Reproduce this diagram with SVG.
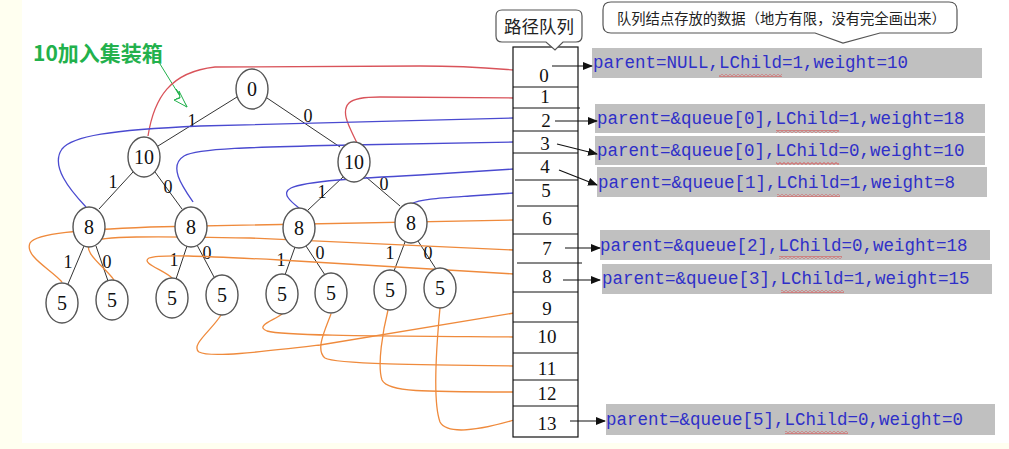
<svg xmlns="http://www.w3.org/2000/svg" width="1009" height="449" viewBox="0 0 1009 449">
<style>
.node ellipse{fill:#fff;stroke:#555;stroke-width:1.4}
.node text,.lbl,.qn{font-family:"Liberation Serif","Times New Roman",serif;fill:#111;text-anchor:middle}
.node text{font-size:20px}
.lbl{font-size:18px}
.qn{font-size:19px}
.edge{stroke:#333;stroke-width:1}
.red{fill:none;stroke:#d9535a;stroke-width:1.3}
.blue{fill:none;stroke:#4a4ad0;stroke-width:1.3}
.orange{fill:none;stroke:#ef8a3c;stroke-width:1.3}
.box{fill:#c0c0c0}
.code{font-family:"Liberation Mono","Courier New",monospace;font-size:17.5px;fill:#2f2fc8}
.arr{stroke:#111;stroke-width:1.2;marker-end:url(#ah)}
.call{fill:#fff;stroke:#555;stroke-width:1.2}
.cjk{font-family:"Liberation Sans","Noto Sans CJK SC",sans-serif;fill:#222}
</style>
<defs>
<marker id="ah" markerWidth="10" markerHeight="8" refX="9" refY="4" orient="auto" markerUnits="userSpaceOnUse">
<path d="M0,0 L10,4 L0,8 Z" fill="#111"/>
</marker>
<pattern id="wave" width="4" height="3" patternUnits="userSpaceOnUse">
<path d="M0,0.6 L2,2.4 L4,0.6" fill="none" stroke="#e03030" stroke-width="0.8"/>
</pattern>
</defs>
<rect x="0" y="0" width="1009" height="449" fill="#fffff0"/>
<rect x="22" y="0" width="987" height="443" fill="#fff"/>

<g id="annotation">
<text x="33" y="61" font-family="'Noto Sans CJK SC',sans-serif" font-size="21" font-weight="bold" fill="#22b14c">10加入集装箱</text>
<line x1="160" y1="64" x2="186" y2="106" stroke="#22b14c" stroke-width="1"/>
<path d="M187,107 L176,99 L181,97 L176,89 L186,105 Z" fill="none" stroke="#22b14c" stroke-width="1"/>
<path d="M187,107 L174,100 L180,98 L179,91 Z" fill="#fff" stroke="#22b14c" stroke-width="1"/>
</g>

<g id="tree-edges">
<line class="edge" x1="237" y1="97" x2="158" y2="146"/>
<line class="edge" x1="267" y1="98" x2="340" y2="147"/>
<line class="edge" x1="133" y1="172" x2="99" y2="209"/>
<line class="edge" x1="155" y1="172" x2="182" y2="209"/>
<line class="edge" x1="343" y1="177" x2="308" y2="210"/>
<line class="edge" x1="366" y1="177" x2="400" y2="206"/>
<line class="edge" x1="84" y1="246" x2="68" y2="284"/>
<line class="edge" x1="96" y1="246" x2="108" y2="281"/>
<line class="edge" x1="187" y1="246" x2="176" y2="279"/>
<line class="edge" x1="197" y1="245" x2="214" y2="277"/>
<line class="edge" x1="295" y1="247" x2="285" y2="275"/>
<line class="edge" x1="306" y1="246" x2="325" y2="275"/>
<line class="edge" x1="405" y1="242" x2="394" y2="271"/>
<line class="edge" x1="418" y1="241" x2="436" y2="269"/>
<text class="lbl" x="192" y="127">1</text>
<text class="lbl" x="308" y="122">0</text>
<text class="lbl" x="113" y="188">1</text>
<text class="lbl" x="168" y="193">0</text>
<text class="lbl" x="322" y="198">1</text>
<text class="lbl" x="384" y="190">0</text>
<text class="lbl" x="68" y="268">1</text>
<text class="lbl" x="107" y="268">0</text>
<text class="lbl" x="174" y="266">1</text>
<text class="lbl" x="207" y="259">0</text>
<text class="lbl" x="281" y="266">1</text>
<text class="lbl" x="320" y="259">0</text>
<text class="lbl" x="390" y="259">1</text>
<text class="lbl" x="428" y="259">0</text>
</g>

<g id="connectors">
<path class="red" d="M148,136 C154,98 170,72 215,67 L420,66 C470,66 500,69 514,70"/>
<path class="red" d="M357,143 C350,128 340,112 349,103 C354,98 365,97 380,97 L514,98"/>
<path class="blue" d="M86,207 C70,190 50,166 62,149 C72,136 110,130 200,126 L514,118"/>
<path class="blue" d="M193,202 C182,186 168,166 184,156 C198,148 260,147 350,145 L514,142"/>
<path class="blue" d="M299,208 C290,201 281,193 291,188 C305,181 360,178 420,175 L514,169"/>
<path class="blue" d="M411,204 C420,199 440,198 470,196 L514,193"/>
<path class="orange" d="M62,282 C52,270 24,256 30,243 C36,233 80,230 150,227 L514,220"/>
<path class="orange" d="M114,280 C106,268 80,251 91,242 C100,236 150,236 250,238 L514,250"/>
<path class="orange" d="M172,278 C164,270 140,263 149,258 C160,254 200,256 280,260 L514,274"/>
<path class="orange" d="M221,315 C212,330 190,345 199,352 C210,358 260,352 320,345 L514,313"/>
<path class="orange" d="M282,314 C275,320 254,326 267,331 C285,336 380,336 514,337"/>
<path class="orange" d="M331,314 C325,330 315,350 325,358 C335,364 420,365 514,366"/>
<path class="orange" d="M388,310 C383,330 377,365 382,380 C388,392 420,392 521,392"/>
<path class="orange" d="M440,308 C437,340 432,400 440,422 C447,435 480,430 514,420"/>
</g>

<g id="n-root" class="node"><ellipse cx="252" cy="89" rx="16" ry="20"/><text x="252" y="96">0</text></g>
<g id="n-10a" class="node"><ellipse cx="144" cy="157" rx="16" ry="20"/><text x="144" y="164">10</text></g>
<g id="n-10b" class="node"><ellipse cx="354" cy="162" rx="16" ry="20"/><text x="354" y="169">10</text></g>
<g id="n-8a" class="node"><ellipse cx="89" cy="227" rx="16" ry="20"/><text x="89" y="234">8</text></g>
<g id="n-8b" class="node"><ellipse cx="191" cy="227" rx="16" ry="20"/><text x="191" y="234">8</text></g>
<g id="n-8c" class="node"><ellipse cx="299" cy="228" rx="16" ry="20"/><text x="299" y="235">8</text></g>
<g id="n-8d" class="node"><ellipse cx="411" cy="223" rx="16" ry="20"/><text x="411" y="230">8</text></g>
<g id="n-5a" class="node"><ellipse cx="62" cy="303" rx="16" ry="20"/><text x="62" y="310">5</text></g>
<g id="n-5b" class="node"><ellipse cx="112" cy="300" rx="16" ry="20"/><text x="112" y="307">5</text></g>
<g id="n-5c" class="node"><ellipse cx="172" cy="298" rx="16" ry="20"/><text x="172" y="305">5</text></g>
<g id="n-5d" class="node"><ellipse cx="222" cy="295" rx="16" ry="20"/><text x="222" y="302">5</text></g>
<g id="n-5e" class="node"><ellipse cx="282" cy="294" rx="16" ry="20"/><text x="282" y="301">5</text></g>
<g id="n-5f" class="node"><ellipse cx="331" cy="293" rx="16" ry="20"/><text x="331" y="300">5</text></g>
<g id="n-5g" class="node"><ellipse cx="390" cy="290" rx="16" ry="20"/><text x="390" y="297">5</text></g>
<g id="n-5h" class="node"><ellipse cx="440" cy="288" rx="16" ry="20"/><text x="440" y="295">5</text></g>

<g id="queue">
<rect x="513" y="47" width="65" height="390" fill="#fff" stroke="#111" stroke-width="1.2"/>
<g stroke="#111" stroke-width="1">
<line x1="513" y1="87" x2="578" y2="87"/>
<line x1="513" y1="108" x2="580" y2="108"/>
<line x1="513" y1="131" x2="578" y2="131"/>
<line x1="513" y1="153" x2="578" y2="153"/>
<line x1="515" y1="180" x2="578" y2="180"/>
<line x1="517" y1="206" x2="578" y2="206"/>
<line x1="513" y1="234" x2="578" y2="234"/>
<line x1="517" y1="263" x2="582" y2="263"/>
<line x1="513" y1="292" x2="578" y2="292"/>
<line x1="513" y1="322" x2="578" y2="322"/>
<line x1="513" y1="353" x2="578" y2="353"/>
<line x1="513" y1="380" x2="578" y2="380"/>
<line x1="513" y1="406" x2="578" y2="406"/>
</g>
<text class="qn" x="544" y="82">0</text>
<text class="qn" x="545" y="103">1</text>
<text class="qn" x="546" y="127">2</text>
<text class="qn" x="545" y="150">3</text>
<text class="qn" x="545" y="173">4</text>
<text class="qn" x="546" y="197">5</text>
<text class="qn" x="547" y="225">6</text>
<text class="qn" x="547" y="255">7</text>
<text class="qn" x="547" y="283">8</text>
<text class="qn" x="547" y="315">9</text>
<text class="qn" x="547" y="343">10</text>
<text class="qn" x="547" y="375">11</text>
<text class="qn" x="547" y="400">12</text>
<text class="qn" x="547" y="430">13</text>
</g>

<g id="callout-queue">
<path class="call" d="M502,10 H576 Q582,10 582,16 V36 Q582,42 576,42 H563 L555,50 L546,42 H502 Q496,42 496,36 V16 Q496,10 502,10 Z"/>
<text class="cjk" x="539" y="33" font-size="17.5" text-anchor="middle">路径队列</text>
</g>
<g id="callout-data">
<path class="call" d="M611,2 H949 Q957,2 957,10 V25 Q957,33 949,33 H880 L843,43 L815,33 H611 Q603,33 603,25 V10 Q603,2 611,2 Z"/>
<text class="cjk" x="617" y="24" font-size="14.3">队列结点存放的数据（地方有限，没有完全画出来）</text>
</g>

<g id="data-0"><rect class="box" x="592" y="48" width="390" height="30"/><text class="code" x="593" y="68">parent=NULL,LChild=1,weight=10</text><rect x="719" y="74" width="63" height="3" fill="url(#wave)"/></g>
<g id="data-2"><rect class="box" x="595" y="104" width="390" height="29"/><text class="code" x="597" y="124">parent=&amp;queue[0],LChild=1,weight=18</text><rect x="776" y="130" width="63" height="3" fill="url(#wave)"/></g>
<g id="data-3"><rect class="box" x="595" y="136" width="390" height="29"/><text class="code" x="597" y="156">parent=&amp;queue[0],LChild=0,weight=10</text><rect x="776" y="162" width="63" height="3" fill="url(#wave)"/></g>
<g id="data-4"><rect class="box" x="597" y="167" width="390" height="30"/><text class="code" x="598" y="188">parent=&amp;queue[1],LChild=1,weight=8</text><rect x="777" y="194" width="63" height="3" fill="url(#wave)"/></g>
<g id="data-7"><rect class="box" x="600" y="230" width="390" height="30"/><text class="code" x="600" y="251">parent=&amp;queue[2],LChild=0,weight=18</text><rect x="779" y="256" width="63" height="3" fill="url(#wave)"/></g>
<g id="data-8"><rect class="box" x="602" y="264" width="390" height="30"/><text class="code" x="602" y="284">parent=&amp;queue[3],LChild=1,weight=15</text><rect x="781" y="290" width="63" height="3" fill="url(#wave)"/></g>
<g id="data-13"><rect class="box" x="606" y="404" width="389" height="31"/><text class="code" x="606" y="425">parent=&amp;queue[5],LChild=0,weight=0</text><rect x="785" y="431" width="63" height="3" fill="url(#wave)"/></g>

<g id="pointers">
<line class="arr" x1="552" y1="66" x2="592" y2="66"/>
<line class="arr" x1="555" y1="121" x2="597" y2="121"/>
<line class="arr" x1="557" y1="144" x2="597" y2="154"/>
<line class="arr" x1="559" y1="170" x2="597" y2="185"/>
<line class="arr" x1="565" y1="248" x2="600" y2="248"/>
<line class="arr" x1="563" y1="280" x2="600" y2="280"/>
<line class="arr" x1="570" y1="421" x2="605" y2="421"/>
</g>
</svg>
